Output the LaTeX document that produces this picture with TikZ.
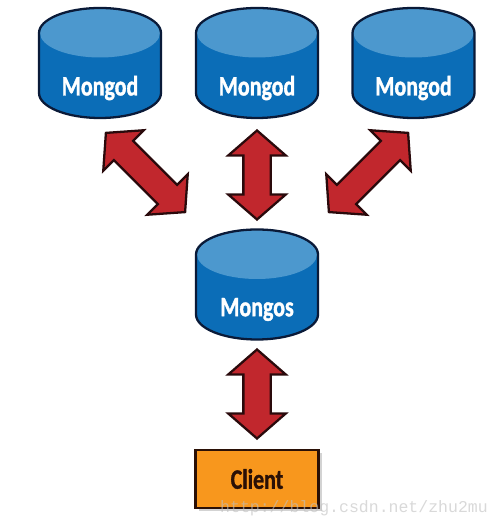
\documentclass[tikz,border=0pt]{standalone}
\usepackage{fontspec}
\usetikzlibrary{shapes.arrows,shadows}
\newfontfamily\labelfont[FakeStretch=0.78,FakeBold=1.2]{Carlito}
\newfontfamily\markfont{Liberation Mono}
\definecolor{dbbody}{HTML}{0B6DB7}
\definecolor{dbtop}{HTML}{4C98CE}
\definecolor{dbline}{HTML}{0A1A38}
\definecolor{arrowfill}{HTML}{C1272D}
\definecolor{arrowline}{HTML}{2A0A0C}
\definecolor{clientfill}{HTML}{F8971D}
\definecolor{clientline}{HTML}{2A1006}
\tikzset{
    dbtext/.style={font=\labelfont\bfseries\fontsize{16}{16}\selectfont, text=white},
    linkarrow/.style={double arrow, draw=arrowline, fill=arrowfill, line width=1.3pt,
        minimum width=1.1cm, inner xsep=0pt, inner ysep=0.25cm,
        double arrow head extend=0.3cm, double arrow tip angle=98},
    pics/dbcyl/.style={code={
        \fill[dbbody] (-1.22,0.6) -- (-1.22,-0.6) arc (180:360:1.22 and 0.5) -- (1.22,0.6) arc (0:180:1.22 and 0.5) -- cycle;
        \fill[dbtop] (0,0.6) ellipse (1.2 and 0.49);
        \draw[dbline, line width=1.3pt] (-1.22,0.6) -- (-1.22,-0.6) arc (180:360:1.22 and 0.5) -- (1.22,0.6) arc (0:180:1.22 and 0.5) -- cycle;
        \node[dbtext] (-label) at (0,-0.5) {#1};
    }}
}

\begin{document}
\begin{tikzpicture}
    \useasboundingbox (0,0) rectangle (10,10.54);
    % databases
    \pic (mongodA) at (2,9.28) {dbcyl=Mongod};
    \pic (mongodB) at (5.14,9.28) {dbcyl=Mongod};
    \pic (mongodC) at (8.27,9.28) {dbcyl=Mongod};
    \pic (mongos) at (5.14,4.85) {dbcyl=Mongos};
    % client
    \node[draw=clientline, fill=clientfill, line width=1.3pt, minimum width=2.46cm, minimum height=1.16cm,
        drop shadow={shadow xshift=0.06cm, shadow yshift=-0.06cm, opacity=0.35},
        font=\labelfont\bfseries\fontsize{16}{16}\selectfont, text=clientline] (client) at (5.14,0.96) {Client};
    % arrows
    \node[linkarrow, minimum height=2.24cm, rotate=-45] (linkA) at (2.91,7.09) {};
    \node[linkarrow, minimum height=1.78cm, rotate=90] (linkB) at (5.14,7.04) {};
    \node[linkarrow, minimum height=2.24cm, rotate=45] (linkC) at (7.37,7.09) {};
    \node[linkarrow, minimum height=1.78cm, rotate=90] (linkD) at (5.14,2.66) {};
    % watermark
    \node[font=\markfont\fontsize{9.4}{9.4}\selectfont, text=black!25, opacity=0.6, inner sep=0pt] (mark) at (7.08,0.38) {http://blog.csdn.net/zhu2mu};
\end{tikzpicture}
\end{document}
